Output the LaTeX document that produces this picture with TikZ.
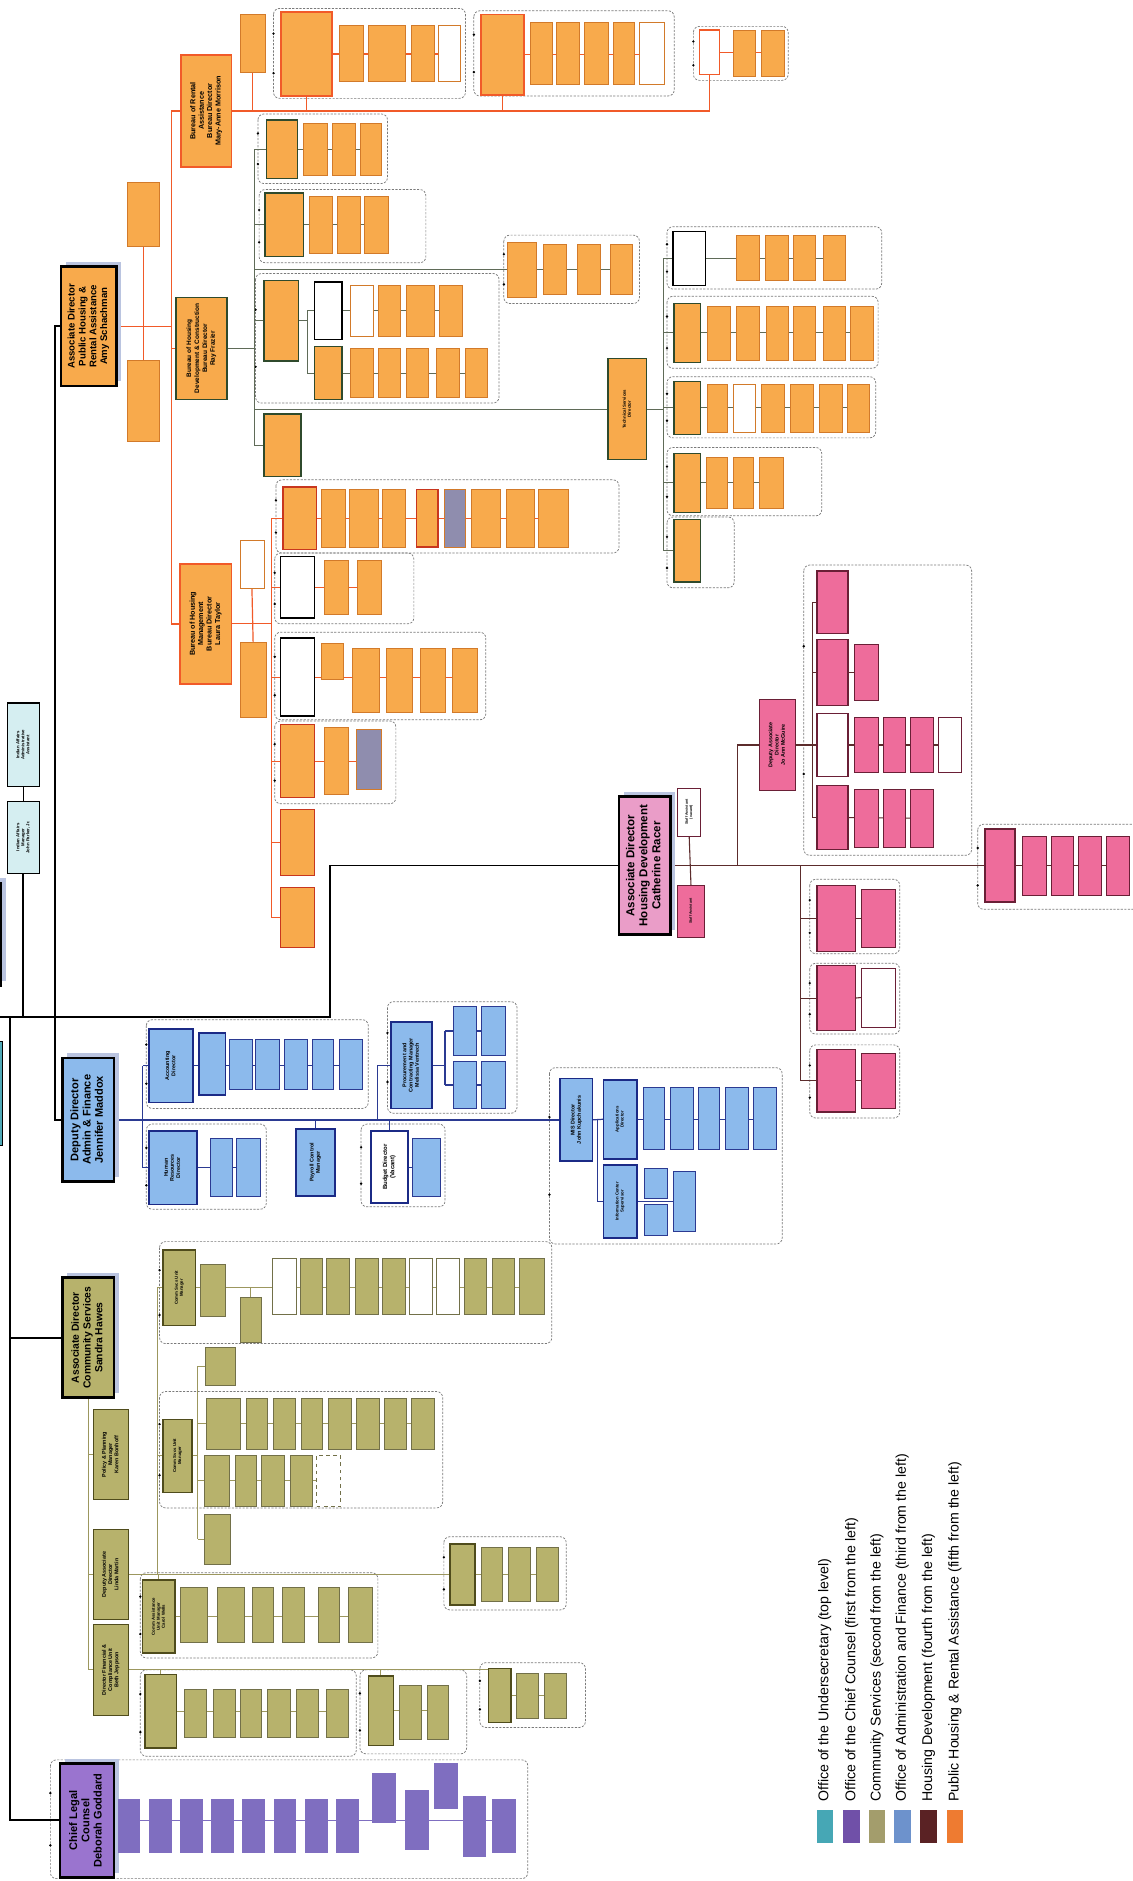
\documentclass[tikz,border=0pt]{standalone}
\usepackage{fontspec}
\setmainfont{Liberation Sans}
\usepackage{graphicx}
\usetikzlibrary{shadows}
\pgfdeclarelayer{bg}
\pgfsetlayers{bg,main}
\definecolor{usfill}{HTML}{D5EEF1}
\definecolor{usteal}{HTML}{4FA9B7}
\definecolor{ccpur}{HTML}{7F6EC0}
\definecolor{ccpurL}{HTML}{9A74CF}
\definecolor{csfill}{HTML}{B7B26C}
\definecolor{csline}{HTML}{9C975E}
\definecolor{csdark}{HTML}{4F4C1C}
\definecolor{affill}{HTML}{8CBAEC}
\definecolor{afdark}{HTML}{1B2A86}
\definecolor{afline}{HTML}{2B3A92}
\definecolor{hdfill}{HTML}{EE6C9B}
\definecolor{hdfillL}{HTML}{EA9DC8}
\definecolor{hddark}{HTML}{6A1F36}
\definecolor{hdline}{HTML}{5C2C2C}
\definecolor{phfill}{HTML}{F8AA4C}
\definecolor{phdark}{HTML}{D27A2A}
\definecolor{phline}{HTML}{F15A29}
\definecolor{phred}{HTML}{C8361E}
\definecolor{pgline}{HTML}{5F6B58}
\definecolor{pgdark}{HTML}{2F4A2C}
\definecolor{phgray}{HTML}{8F8DAE}
\definecolor{shadowc}{HTML}{BAC4E0}
\definecolor{lgteal}{HTML}{46A7B5}
\definecolor{lgpur}{HTML}{7050A8}
\definecolor{lgolive}{HTML}{A39D6C}
\definecolor{lgblue}{HTML}{6D92CC}
\definecolor{lgmaroon}{HTML}{5A2224}
\definecolor{lgorange}{HTML}{EE7B31}
\definecolor{framec}{HTML}{7A7A7A}
\newcommand\fExec{\fontsize{9.2}{10.2}\selectfont\bfseries}
\newcommand\fExecL{\fontsize{9.6}{10.8}\selectfont\bfseries}
\newcommand\fExecS{\fontsize{8.6}{9.8}\selectfont\bfseries}
\newcommand\fExecP{\fontsize{8}{9}\selectfont\bfseries}
\newcommand\fBur{\fontsize{6}{7}\selectfont\bfseries}
\newcommand\fBurS{\fontsize{5.4}{6.6}\selectfont\bfseries}
\newcommand\fMid{\fontsize{4.5}{5.2}\selectfont\bfseries}
\newcommand\fBud{\fontsize{5}{6}\selectfont\bfseries}
\newcommand\fLd{\fontsize{3.6}{4.2}\selectfont\bfseries}
\newcommand\fTiny{\fontsize{3}{3.5}\selectfont\bfseries}
\newcommand\fLeg{\fontsize{11.8}{13}\selectfont}
\newcommand\rt[1]{\rotatebox{90}{\begin{tabular}{@{}c@{}}#1\end{tabular}}}
\newcommand\bx[7]{\node[#2, minimum width={(#5-(#3))*1pt}, minimum height={(#6-(#4))*1pt}] (#1) at ({(#3+#5)/2},{(#4+#6)/2}) {#7};}
\newcommand\brow[4]{\foreach \xa/\xb/\st [count=\ni] in {#4} {\edef\tmpb{\noexpand\bx{#1\ni}{\st}{\xa}{#2}{\xb}{#3}{}}\tmpb}}
\newcommand\frm[4]{\draw[frame] (#1,#2) rectangle (#3,#4); \fill[black] (#1,{#2+0.28*(#4-(#2))}) circle (1.1pt) (#1,{#2+0.72*(#4-(#2))}) circle (1.1pt);}
\begin{document}
\begin{tikzpicture}[x=1pt,y=-1pt,
  sb/.style={draw, line width=0.5pt, inner sep=0pt, outer sep=0pt},
  exec/.style={sb, draw=black, line width=2pt, drop shadow={shadow xshift=4pt, shadow yshift=4pt, fill=shadowc, opacity=1}},
  usb/.style={sb, draw=black, line width=0.9pt, fill=usfill},
  ccb/.style={sb, draw=none, fill=ccpur},
  csb/.style={sb, draw=csdark!80, fill=csfill},
  csL/.style={sb, draw=csdark, line width=1.1pt, fill=csfill},
  csW/.style={sb, draw=csdark!80, fill=white},
  csD/.style={sb, draw=csdark!80, dashed, fill=white},
  afb/.style={sb, draw=afline, fill=affill},
  afL/.style={sb, draw=afdark, line width=1.4pt, fill=affill},
  afW/.style={sb, draw=afdark, line width=1.4pt, fill=white},
  hdb/.style={sb, draw=hddark, fill=hdfill},
  hdL/.style={sb, draw=hddark, line width=1.1pt, fill=hdfill},
  hdW/.style={sb, draw=hddark, fill=white},
  phb/.style={sb, draw=phdark, fill=phfill},
  phR/.style={sb, draw=phred, line width=1.2pt, fill=phfill},
  phK/.style={sb, draw=pgdark, line width=1.2pt, fill=phfill},
  phW/.style={sb, draw=phdark, fill=white},
  phWK/.style={sb, draw=black, line width=1.2pt, fill=white},
  phG/.style={sb, draw=phdark, fill=phgray},
  frame/.style={draw=framec, line width=0.6pt, dash pattern=on 1.8pt off 1.2pt, rounded corners=5pt},
  mainl/.style={draw=black, line width=1.6pt},
  csl/.style={draw=csline, line width=0.8pt},
  afl/.style={draw=afline, line width=1pt},
  hdl/.style={draw=hdline, line width=0.9pt},
  phl/.style={draw=phline, line width=1pt},
  pgl/.style={draw=pgline, line width=0.9pt},
]
\useasboundingbox (0,0) rectangle (944,1568);
% ---------------- Undersecretary
\bx{usec}{exec, fill=usteal}{-40}{736}{1}{822}{}
\bx{usec2}{sb, draw=black, line width=1.2pt, fill=usteal}{-40}{868}{2}{955}{}
\bx{iaaa}{usb, font=\fLd}{6}{586}{33}{656}{\rt{Indian Affairs\\Administrative\\Assistant}}
\bx{iam}{usb, font=\fLd}{6}{668}{33}{728}{\rt{Indian Affairs\\Manager\\John Parker, Jr.}}
% ---------------- Chief Legal Counsel
\bx{clc}{exec, fill=ccpurL, font=\fExec}{50}{1470}{95}{1565}{\rt{Chief Legal\\Counsel\\Deborah Goddard}}
\brow{pp}{1500}{1545}{98/117/ccb, 124/143/ccb, 150/169/ccb, 176/195/ccb, 202/221/ccb, 228/247/ccb, 254/273/ccb, 280/299/ccb}
\bx{pq1}{ccb}{310}{1478}{330}{1520}{}
\bx{pq2}{ccb}{338}{1492}{358}{1542}{}
\bx{pq3}{ccb}{362}{1470}{382}{1508}{}
\bx{pq4}{ccb}{386}{1497}{405}{1548}{}
\bx{pq5}{ccb}{410}{1500}{430}{1545}{}
% ---------------- Community Services
\bx{adcs}{exec, fill=csfill, font=\fExecS}{52}{1065}{95}{1165}{\rt{Associate Director\\Community Services\\Sandra Hawes}}
\bx{cspp}{csL, font=\fMid}{78}{1175}{107}{1250}{\rt{Policy \& Planning\\Manager\\Karen Bonhoff}}
\bx{csdad}{csL, font=\fMid}{78}{1275}{107}{1350}{\rt{Deputy Associate\\Director\\Linda Martin}}
\bx{csdfc}{csL, font=\fMid}{78}{1354}{107}{1430}{\rt{Director Financial \&\\Compliance Unit\\Beth Jeppson}}
\bx{csu1}{csL, font=\fLd}{136}{1042}{163}{1105}{\rt{Comm Svcs Unit\\Manager}}
\bx{csu1a}{csb}{167}{1054}{188}{1097}{}
\bx{csu1b}{csb}{200}{1081}{218}{1119}{}
\brow{csr}{1049}{1096}{227/247/csW, 250/269/csb, 272/291/csb, 296/315/csb, 319/338/csb, 341/360/csW, 364/383/csW, 387/405/csb, 410/429/csb, 433/454/csb}
\bx{cs2a}{csb}{171}{1123}{196}{1155}{}
\bx{csu2}{csL, font=\fLd}{136}{1183}{160}{1244}{\rt{Comm Svcs Unit\\Manager}}
\brow{csp}{1166}{1208}{172/200/csb, 205/223/csb, 228/246/csb, 251/269/csb, 274/293/csb, 297/316/csb, 320/339/csb, 343/362/csb}
\brow{csq}{1213}{1256}{170/191/csb, 196/214/csb, 218/237/csb, 242/260/csb, 264/284/csD}
\bx{cs2b}{csb}{170}{1262}{192}{1304}{}
\bx{csu3}{csL, font=\fLd}{119}{1317}{146}{1378}{\rt{Comm Assistance\\Unit Manager\\Carol Wells}}
\brow{cst}{1323}{1369}{150/173/csb, 181/204/csb, 210/228/csb, 235/254/csb, 265/283/csb, 290/310/csb}
\bx{csg}{csL}{375}{1287}{396}{1338}{}
\brow{csgr}{1290}{1335}{401/419/csb, 424/442/csb, 447/465/csb}
\bx{csc1}{csL}{121}{1396}{147}{1457}{}
\brow{csca}{1408}{1448}{154/172/csb, 178/196/csb, 200/218/csb, 223/242/csb, 247/265/csb, 272/290/csb}
\bx{csc2}{csL}{307}{1397}{328}{1455}{}
\brow{cscb}{1405}{1450}{333/351/csb, 356/374/csb}
\bx{csc3}{csL}{407}{1391}{426}{1436}{}
\brow{cscc}{1395}{1432}{430/449/csb, 454/472/csb}
% ---------------- Admin & Finance
\bx{ddaf}{exec, fill=affill, font=\fExec}{52}{882}{95}{985}{\rt{Deputy Director\\Admin \& Finance\\Jennifer Maddox}}
\bx{acc}{afL, font=\fMid}{124}{858}{161}{919}{\rt{Accounting\\Director}}
\bx{acc0}{afL}{166}{861}{188}{913}{}
\brow{acs}{866}{908}{191/210/afb, 213/233/afb, 237/256/afb, 260/278/afb, 283/302/afb}
\bx{hr}{afL, font=\fMid}{124}{943}{164}{1004}{\rt{Human\\Resources\\Director}}
\brow{hrs}{949}{997}{175/194/afb, 197/217/afb}
\bx{pay}{afL, font=\fMid}{247}{941}{279}{997}{\rt{Payroll Control\\Manager}}
\bx{bud}{afW, font=\fBud}{309}{943}{340}{1003}{\rt{Budget Director\\(Vacant)}}
\bx{buds}{afb}{344}{949}{367}{997}{}
\bx{proc}{afL, font=\fMid}{326}{852}{360}{924}{\rt{Procurement and\\Contracting Manager\\Melissa Ventrech}}
\bx{pr1}{afb}{378}{839}{397}{880}{}
\bx{pr2}{afb}{401}{839}{421}{880}{}
\bx{pr3}{afb}{378}{885}{397}{924}{}
\bx{pr4}{afb}{401}{885}{421}{924}{}
\bx{mis}{afL, font=\fMid}{467}{899}{494}{968}{\rt{MIS Director\\John Kupchakunis}}
\bx{app}{afL, font=\fLd}{503}{900}{531}{966}{\rt{Applications\\Director}}
\brow{apps}{906}{958}{536/554/afb, 559/578/afb, 582/600/afb, 605/624/afb, 628/647/afb}
\bx{info}{afL, font=\fLd}{503}{971}{531}{1032}{\rt{Information Center\\Supervisor}}
\bx{inf1}{afb}{537}{974}{556}{999}{}
\bx{inf2}{afb}{537}{1004}{556}{1030}{}
\bx{inf3}{afb}{561}{976}{580}{1026}{}
% ---------------- Housing Development
\bx{adhd}{exec, fill=hdfillL, font=\fExecL}{516}{664}{559}{779}{\rt{Associate Director\\Housing Development\\Catherine Racer}}
\bx{sa1}{hdW, font=\fTiny}{565}{657}{584}{697}{\rt{Staff Assistant\\(vacant)}}
\bx{sa2}{hdb, font=\fTiny}{565}{738}{587}{781}{\rt{Staff Assistant}}
\bx{depad}{hdL, font=\fMid}{633}{583}{663}{659}{\rt{Deputy Associate\\Director\\Jo Ann McGuire}}
\bx{h1}{hdL}{681}{476}{707}{528}{}
\bx{h2}{hdL}{681}{533}{707}{588}{}
\bx{h2a}{hdb}{712}{537}{732}{584}{}
\bx{h3}{hdW, line width=1.1pt}{681}{595}{707}{647}{}
\brow{h3r}{598}{644}{712/732/hdb, 736/755/hdb, 759/778/hdb, 782/801/hdW}
\bx{h4}{hdL}{681}{655}{707}{708}{}
\brow{h4r}{658}{706}{712/732/hdb, 736/755/hdb, 759/778/hdb}
\bx{hla}{hdL}{681}{738}{713}{793}{}
\bx{hlab}{hdb}{718}{741}{746}{790}{}
\bx{hlb}{hdL}{681}{805}{713}{859}{}
\bx{hlbb}{hdW}{718}{807}{746}{856}{}
\bx{hlc}{hdL}{681}{875}{713}{927}{}
\bx{hlcb}{hdb}{718}{878}{746}{924}{}
\bx{hdr}{hdL}{821}{691}{846}{752}{}
\brow{hdrs}{697}{746}{852/872/hdb, 876/895/hdb, 899/918/hdb, 922/941/hdb}
% ---------------- Public Housing & Rental Assistance
\bx{adph}{exec, fill=phfill, font=\fExecP}{51}{222}{97}{322}{\rt{Associate Director\\Public Housing \&\\Rental Assistance\\Amy Schachman}}
\bx{ia}{phb}{106}{152}{133}{205}{}
\bx{ss}{phb}{106}{300}{133}{368}{}
\bx{rab}{phR, draw=phline, line width=1.5pt, font=\fBur}{151}{46}{193}{139}{\rt{Bureau of Rental\\Assistance\\Bureau Director\\Mary-Anne Morrison}}
\bx{bhdc}{phK, line width=1.5pt, font=\fBurS}{147}{248}{189}{333}{\rt{Bureau of Housing\\Development \& Construction\\Bureau Director\\Ray Frazier}}
\bx{bhm}{phR, draw=phline, line width=1.5pt, font=\fBur}{150}{470}{193}{570}{\rt{Bureau of Housing\\Management\\Bureau Director\\Laura Taylor}}
\bx{isys}{phb}{200}{12}{221}{60}{}
\bx{lr1}{phR, draw=phline, line width=1.4pt}{234}{10}{277}{80}{}
\brow{lra}{21}{68}{283/303/phb, 307/338/phb, 343/362/phb, 365/384/phW}
\bx{lr2}{phR, draw=phline, line width=1.4pt}{401}{12}{437}{79}{}
\brow{lrb}{19}{70}{442/460/phb, 464/483/phb, 487/507/phb, 511/529/phb, 533/554/phW}
\bx{lr3}{phW, draw=phline, line width=1pt}{583}{25}{600}{62}{}
\brow{lrc}{25}{64}{611/630/phb, 635/654/phb}
\bx{la1}{phK}{222}{100}{248}{149}{}
\brow{las}{103}{146}{253/273/phb, 277/296/phb, 300/318/phb}
\bx{lb1}{phK}{221}{161}{253}{214}{}
\brow{lbs}{164}{211}{258/277/phb, 281/300/phb, 304/324/phb}
\bx{lc1}{phK}{220}{234}{249}{301}{}
\bx{lcu}{phWK}{262}{235}{285}{283}{}
\brow{lcus}{238}{280}{292/311/phW, 315/334/phb, 339/362/phb, 366/385/phb}
\bx{lcl}{phK}{262}{289}{285}{333}{}
\brow{lcls}{290}{331}{292/311/phb, 315/334/phb, 339/357/phb, 364/383/phb, 388/406/phb}
\bx{ld1}{phb}{423}{202}{447}{248}{}
\brow{lds}{204}{245}{453/472/phb, 481/500/phb, 509/527/phb}
\bx{fld}{phK}{220}{345}{251}{397}{}
\bx{tsd}{phK, font=\fLd}{507}{299}{539}{383}{\rt{Technical Services\\Director}}
\bx{lt1}{phWK}{561}{193}{588}{238}{}
\brow{lta}{196}{234}{614/633/phb, 638/657/phb, 661/680/phb, 686/705/phb}
\bx{lt2}{phK}{562}{253}{584}{302}{}
\brow{ltb}{255}{300}{590/609/phb, 614/633/phb, 639/657/phb, 661/680/phb, 686/705/phb, 709/728/phb}
\bx{lt3}{phK}{562}{318}{584}{362}{}
\brow{ltc}{320}{360}{590/606/phb, 611/630/phW, 635/654/phb, 659/678/phb, 683/702/phb, 706/725/phb}
\bx{lt4}{phK}{562}{378}{584}{427}{}
\brow{ltd}{381}{424}{589/606/phb, 611/628/phb, 633/653/phb}
\bx{lt5}{phK}{562}{433}{584}{485}{}
\bx{aa}{phW}{200}{450}{220}{490}{}
\bx{apc}{phb}{200}{535}{222}{598}{}
\bx{lm1}{phR}{236}{406}{264}{458}{}
\brow{lma}{408}{456}{268/288/phb, 291/315/phb, 319/338/phb, 347/365/phR, 370/388/phG, 393/417/phb, 422/445/phb, 449/474/phb}
\bx{lm2}{phWK}{234}{464}{262}{515}{}
\brow{lmb}{467}{512}{270/290/phb, 298/318/phb}
\bx{lm3}{phWK}{234}{532}{262}{597}{}
\bx{lm3a}{phb}{268}{536}{286}{566}{}
\brow{lmc}{540}{594}{294/316/phb, 322/344/phb, 350/371/phb, 377/398/phb}
\bx{lm4}{phR}{234}{604}{262}{665}{}
\bx{lm4a}{phb}{270}{606}{290}{662}{}
\bx{lm4b}{phG}{297}{608}{318}{658}{}
\bx{lm5}{phR}{234}{675}{262}{730}{}
\bx{lm6}{phR}{234}{740}{262}{790}{}
% ---------------- Legend
\bx{lgs1}{sb, draw=none, fill=lgteal}{681}{1509}{694}{1536}{}
\bx{lgs2}{sb, draw=none, fill=lgpur}{703}{1509}{717}{1536}{}
\bx{lgs3}{sb, draw=none, fill=lgolive}{724}{1509}{738}{1536}{}
\bx{lgs4}{sb, draw=none, fill=lgblue}{745}{1509}{759}{1536}{}
\bx{lgs5}{sb, draw=none, fill=lgmaroon}{767}{1509}{781}{1536}{}
\bx{lgs6}{sb, draw=none, fill=lgorange}{789}{1509}{803}{1536}{}
\node[rotate=90, anchor=west, font=\fLeg, inner sep=0pt] (lgt1) at (687.5,1502) {Office of the Undersecretary (top level)};
\node[rotate=90, anchor=west, font=\fLeg, inner sep=0pt] (lgt2) at (710,1502) {Office of the Chief Counsel (first from the left)};
\node[rotate=90, anchor=west, font=\fLeg, inner sep=0pt] (lgt3) at (731,1502) {Community Services (second from the left)};
\node[rotate=90, anchor=west, font=\fLeg, inner sep=0pt] (lgt4) at (752,1502) {Office of Administration and Finance (third from the left)};
\node[rotate=90, anchor=west, font=\fLeg, inner sep=0pt] (lgt5) at (774,1502) {Housing Development (fourth from the left)};
\node[rotate=90, anchor=west, font=\fLeg, inner sep=0pt] (lgt6) at (796,1502) {Public Housing \& Rental Assistance (fifth from the left)};
% ================= background: frames and connectors
\begin{pgfonlayer}{bg}
\fill[white] (0,0) rectangle (944,1568);
% frames
\frm{42}{1467}{440}{1566}
\frm{133}{1035}{460}{1120}
\frm{133}{1160}{369}{1257}
\frm{117}{1311}{315}{1382}
\frm{370}{1281}{472}{1342}
\frm{117}{1392}{297}{1464}
\frm{300}{1392}{389}{1462}
\frm{400}{1386}{488}{1440}
\frm{122}{850}{307}{924}
\frm{122}{937}{222}{1008}
\frm{301}{937}{371}{1006}
\frm{323}{835}{431}{928}
\frm{458}{890}{652}{1037}
\frm{670}{471}{810}{713}
\frm{675}{733}{750}{795}
\frm{675}{803}{750}{862}
\frm{675}{871}{750}{932}
\frm{815}{687}{949}{758}
\frm{228}{7}{388}{82}
\frm{395}{9}{562}{80}
\frm{578}{22}{657}{67}
\frm{215}{95}{323}{153}
\frm{216}{158}{355}{219}
\frm{213}{228}{416}{336}
\frm{420}{196}{533}{253}
\frm{556}{189}{735}{241}
\frm{556}{247}{732}{307}
\frm{556}{314}{730}{365}
\frm{556}{373}{685}{430}
\frm{556}{431}{612}{490}
\frm{230}{400}{516}{461}
\frm{229}{461}{345}{520}
\frm{229}{527}{405}{600}
\frm{229}{601}{330}{670}
% main trunk
\coordinate (tL) at (0,848);
\coordinate (tR) at (275,848);
\coordinate (vA) at (46,272);
\coordinate (vC) at (8,848);
\coordinate (vD) at (8,1517.5);
\draw[mainl] (tL) -- (tR) -- (tR |- adhd.west) -- (adhd.west);
\draw[mainl] (adph.west) -- (vA) -- (vA |- ddaf.west) -- (ddaf.west);
\draw[mainl] (vC) -- (vD) -- (clc.west);
\draw[mainl] (adcs.west) -- (adcs.west -| vC);
\draw[mainl, line width=1.2pt] (iaaa.south) -- (iam.north);
\draw[mainl] (iam.south) -- (iam.south |- tL);
% chief counsel
\draw[draw=ccpur, line width=0.8pt] (clc.east) -- (clc.east -| pq5.west);
% community services
\coordinate (csT) at (73.5,1392);
\coordinate (csTe) at (416.5,1392);
\draw[csl] (adcs.south) -- (csT) -- (csTe) -- (csc3.north);
\draw[csl] (cspp.west) -- (cspp.west -| csT);
\draw[csl] (csdad.west) -- (csdad.west -| csT);
\draw[csl] (csc1.north) -- (csc1.north |- csT);
\draw[csl] (csc2.north) -- (csc2.north |- csT);
\draw[csl] (csc1.east) -- (csc1.east -| csca6.west);
\draw[csl] (csc2.east) -- (csc2.east -| cscb2.west);
\draw[csl] (csc3.east) -- (csc3.east -| cscc2.west);
\draw[csl] (csdad.east) -- (csdad.east -| csg.west);
\draw[csl] (csg.east) -- (csg.east -| csgr3.west);
\coordinate (csV) at (131,1073.5);
\draw[csl] (csV) -- (csV |- csdad.east);
\draw[csl] (csu1.west) -- (csu1.west -| csV);
\draw[csl] (csu2.west) -- (csu2.west -| csV);
\draw[csl] (csu3.north) -- (csu3.north |- csdad.east);
\draw[csl] (csu1.east) -- (csu1.east -| csr10.west);
\draw[csl] (csu1b.north) -- (csu1b.north |- csu1.east);
\coordinate (csS) at (165,1139);
\draw[csl] (csS) -- (csS |- cs2b.west);
\draw[csl] (cs2a.west) -- (cs2a.west -| csS);
\draw[csl] (cs2b.west) -- (cs2b.west -| csS);
\draw[csl] (csu2.east) -- (csu2.east -| csS);
\draw[csl] (csp1.west -| csS) -- (csp8.west);
\draw[csl] (csq1.west -| csS) -- (csq5.west);
\draw[csl] (csu3.east) -- (csu3.east -| cst6.west);
% admin & finance
\draw[afl, line width=1.3pt] (ddaf.east) -- (mis.west);
\coordinate (afV) at (119,888.5);
\draw[afl] (afV) -- (afV |- hr.west);
\draw[afl] (acc.west) -- (acc.west -| afV);
\draw[afl] (hr.west) -- (hr.west -| afV);
\draw[afl] (acc.east) -- (acc.east -| acs5.west);
\draw[afl] (hr.east) -- (hr.east -| hrs2.west);
\draw[afl] (pay.north) -- (pay.north |- ddaf.east);
\draw[afl] (bud.north) -- (bud.north |- ddaf.east);
\draw[afl] (bud.east) -- (buds.west);
\coordinate (afP) at (315,888);
\draw[afl] (afP |- ddaf.east) -- (afP) -- (proc.west);
\coordinate (afQ) at (371,859.5);
\draw[afl] (proc.east) -- (proc.east -| afQ);
\draw[afl] (afQ) -- (afQ |- pr3.west);
\draw[afl] (pr1.west) -- (pr1.west -| afQ);
\draw[afl] (pr3.west) -- (pr3.west -| afQ);
\draw[afl] (pr1.east) -- (pr2.west);
\draw[afl] (pr3.east) -- (pr4.west);
\coordinate (afM) at (498,933.5);
\draw[afl] (afM) -- (afM |- info.west) -- (info.west);
\draw[afl] (mis.east) -- (app.west);
\draw[afl] (app.east) -- (app.east -| apps5.west);
\draw[afl] (info.east) -- (info.east -| inf3.west);
% housing development
\draw[hdl, line width=1.2pt] (adhd.east) -- (hdr.west);
\draw[hdl] (sa1.south) -- (sa2.north);
\coordinate (hdB) at (615,721.5);
\draw[hdl] (hdB) -- (hdB |- depad.west) -- (depad.west);
\coordinate (hdV) at (677,502);
\draw[hdl] (depad.east) -- (depad.east -| hdV);
\draw[hdl] (hdV) -- (hdV |- h4.west);
\draw[hdl] (h1.west) -- (h1.west -| hdV);
\draw[hdl] (h2.west) -- (h2.west -| hdV);
\draw[hdl] (h3.west) -- (h3.west -| hdV);
\draw[hdl] (h4.west) -- (h4.west -| hdV);
\draw[hdl] (h2.east) -- (h2a.west);
\draw[hdl] (h3.east) -- (h3r4.west);
\draw[hdl] (h4.east) -- (h4r3.west);
\coordinate (hdW) at (667,721.5);
\draw[hdl] (hdW) -- (hdW |- hlc.west);
\draw[hdl] (hla.west) -- (hla.west -| hdW);
\draw[hdl] (hlb.west) -- (hlb.west -| hdW);
\draw[hdl] (hlc.west) -- (hlc.west -| hdW);
\draw[hdl] (hla.east) -- (hlab.west);
\draw[hdl] (hlb.east) -- (hlbb.west);
\draw[hdl] (hlc.east) -- (hlcb.west);
\draw[hdl] (hdr.east) -- (hdrs4.west);
% public housing
\coordinate (phT) at (143,92.5);
\draw[phl, line width=1.3pt] (adph.east) -- (adph.east -| phT);
\draw[phl, line width=1.3pt] (rab.west) -- (phT) -- (phT |- bhm.west) -- (bhm.west);
\draw[phl, line width=1.3pt] (bhdc.west) -- (bhdc.west -| phT);
\draw[phl] (ia.south) -- (ss.north);
\coordinate (phR) at (591.5,92.5);
\draw[phl] (rab.east) -- (phR) -- (lr3.south);
\draw[phl] (isys.south) -- (isys.south |- phR);
\draw[phl] (lr1.south) -- (lr1.south |- phR);
\draw[phl] (lr2.south) -- (lr2.south |- phR);
\draw[phl] (lr1.east) -- (lr1.east -| lra4.west);
\draw[phl] (lr2.east) -- (lr2.east -| lrb5.west);
\draw[phl] (lr3.east) -- (lr3.east -| lrc2.west);
\coordinate (pgV) at (212,124.5);
\draw[pgl] (bhdc.east) -- (bhdc.east -| pgV);
\draw[pgl] (pgV) -- (pgV |- fld.west);
\draw[pgl] (la1.west) -- (la1.west -| pgV);
\draw[pgl] (lb1.west) -- (lb1.west -| pgV);
\draw[pgl] (lc1.west) -- (lc1.west -| pgV);
\draw[pgl] (fld.west) -- (fld.west -| pgV);
\draw[pgl] (ld1.west) -- (ld1.west -| pgV);
\draw[pgl] (tsd.west) -- (tsd.west -| pgV);
\draw[pgl] (la1.east) -- (la1.east -| las3.west);
\draw[pgl] (lb1.east) -- (lb1.east -| lbs3.west);
\draw[pgl] (ld1.east) -- (ld1.east -| lds3.west);
\coordinate (pgS) at (256,259);
\draw[pgl] (lc1.east) -- (lc1.east -| pgS);
\draw[pgl] (pgS) -- (pgS |- lcl.west);
\draw[pgl] (lcu.west) -- (lcu.west -| pgS);
\draw[pgl] (lcl.west) -- (lcl.west -| pgS);
\draw[pgl] (lcu.east) -- (lcu.east -| lcus4.west);
\draw[pgl] (lcl.east) -- (lcl.east -| lcls5.west);
\coordinate (pgT) at (553,215.5);
\draw[pgl] (tsd.east) -- (tsd.east -| pgT);
\draw[pgl] (pgT) -- (pgT |- lt5.west);
\draw[pgl] (lt1.west) -- (lt1.west -| pgT);
\draw[pgl] (lt2.west) -- (lt2.west -| pgT);
\draw[pgl] (lt3.west) -- (lt3.west -| pgT);
\draw[pgl] (lt4.west) -- (lt4.west -| pgT);
\draw[pgl] (lt5.west) -- (lt5.west -| pgT);
\draw[pgl] (lt1.east) -- (lt1.east -| lta4.west);
\draw[pgl] (lt2.east) -- (lt2.east -| ltb6.west);
\draw[pgl] (lt3.east) -- (lt3.east -| ltc6.west);
\draw[pgl] (lt4.east) -- (lt4.east -| ltd3.west);
\coordinate (phM) at (226,432);
\draw[phl] (bhm.east) -- (bhm.east -| phM);
\draw[phl] (phM) -- (phM |- lm6.west);
\draw[phl] (aa.south) -- (apc.north);
\draw[phl] (lm1.west) -- (lm1.west -| phM);
\draw[phl] (lm2.west) -- (lm2.west -| phM);
\draw[phl] (lm3.west) -- (lm3.west -| phM);
\draw[phl] (lm4.west) -- (lm4.west -| phM);
\draw[phl] (lm5.west) -- (lm5.west -| phM);
\draw[phl] (lm6.west) -- (lm6.west -| phM);
\draw[phl] (lm1.east) -- (lm1.east -| lma8.west);
\draw[phl] (lm2.east) -- (lm2.east -| lmb2.west);
\draw[phl] (lm3.east) -- (lm3.east -| lmc4.west);
\draw[phl] (lm4.east) -- (lm4.east -| lm4b.west);
\end{pgfonlayer}
\end{tikzpicture}
\end{document}
